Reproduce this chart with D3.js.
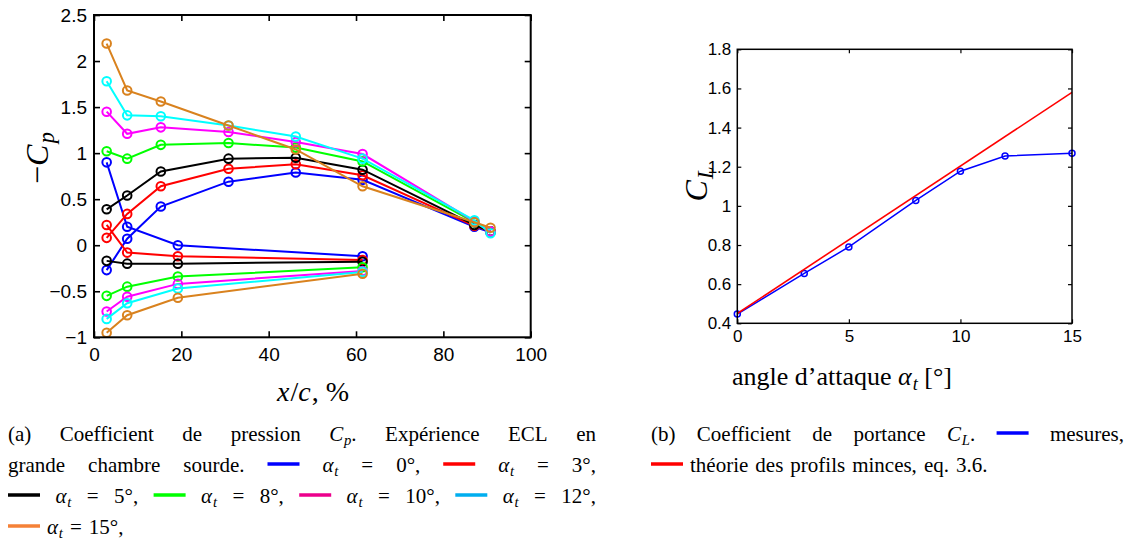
<!DOCTYPE html>
<html><head><meta charset="utf-8">
<script src="https://cdn.jsdelivr.net/npm/d3@7"></script>
<style>
body{margin:0;background:#fff} svg{display:block}
</style>
</head><body>
<svg id="c" width="1131" height="540"></svg>
<script>
// ---------- data ----------
const xUpper = [2.9, 7.6, 15.3, 30.8, 46.2, 61.5, 87.1, 90.8];
const xLower = [2.9, 7.6, 19.2, 61.5];
const alphas = [0, 3, 5, 8, 10, 12, 15];
const cpUpper0  = [-0.27, 0.07, 0.42, 0.69, 0.79, 0.71, 0.20, 0.14];
const cpUpper3  = [0.08, 0.34, 0.64, 0.83, 0.88, 0.76, 0.21, 0.15];
const cpUpper5  = [0.39, 0.54, 0.80, 0.94, 0.95, 0.82, 0.22, 0.15];
const cpUpper8  = [1.02, 0.94, 1.09, 1.11, 1.06, 0.91, 0.25, 0.15];
const cpUpper10 = [1.45, 1.21, 1.28, 1.23, 1.12, 0.99, 0.26, 0.15];
const cpUpper12 = [1.78, 1.41, 1.40, 1.30, 1.18, 0.94, 0.27, 0.13];
const cpUpper15 = [2.19, 1.68, 1.56, 1.30, 1.04, 0.64, 0.25, 0.19];
const cpLower0  = [0.90, 0.20, 0.00, -0.12];
const cpLower3  = [0.22, -0.08, -0.12, -0.16];
const cpLower5  = [-0.17, -0.20, -0.20, -0.18];
const cpLower8  = [-0.55, -0.45, -0.34, -0.24];
const cpLower10 = [-0.72, -0.56, -0.42, -0.28];
const cpLower12 = [-0.80, -0.63, -0.47, -0.29];
const cpLower15 = [-0.95, -0.76, -0.57, -0.31];
const cpXTicks = [0, 20, 40, 60, 80, 100];
const cpYTicks = [-1, -0.5, 0, 0.5, 1, 1.5, 2, 2.5];

const clAlpha = [0, 3, 5, 8, 10, 12, 15];
const clMeasured = [0.447, 0.655, 0.79, 1.028, 1.177, 1.255, 1.269];
const theoryAlpha = [0, 15];
const theoryCL = [0.45, 1.58];
const clXTicks = [0, 5, 10, 15];
const clYTicks = [0.4, 0.6, 0.8, 1.0, 1.2, 1.4, 1.6, 1.8];

const upperSets = [cpUpper0, cpUpper3, cpUpper5, cpUpper8, cpUpper10, cpUpper12, cpUpper15];
const lowerSets = [cpLower0, cpLower3, cpLower5, cpLower8, cpLower10, cpLower12, cpLower15];
const plotColors = ["#0000ff", "#ff0000", "#000000", "#00ff00", "#ff00ff", "#00ffff", "#d9821e"];
const swatchColors = ["#0000ff", "#ff0000", "#000000", "#00ff00", "#ec008c", "#00aeef", "#f58137"];

// ---------- setup ----------
const svg = d3.select("#c");
const SANS = "Liberation Sans";
const SERIF = "Liberation Serif";

// each rich-text part becomes its own <text>, a direct child of the svg
function makeParts(parts, size) {
  return parts.map(p => {
    const fs = p.sub ? size * 0.7 : size;
    const t = svg.append("text").attr("x", 0).attr("y", -100)
      .attr("font-family", SERIF).attr("font-size", fs)
      .style("font-family", "'Liberation Serif'");
    if (p.it) t.style("font-style", "italic");
    t.attr("fill", "#000").text(p.t);
    const w = t.node().getComputedTextLength() + (p.it && !p.sub ? size * 0.04 : 0);
    return {t: t, w: w, dy: p.sub ? size * 0.2 : 0};
  });
}
function placeParts(items, x, y, transform) {
  let cx = x;
  items.forEach(it => {
    it.t.attr("x", cx).attr("y", y + it.dy);
    if (transform) it.t.attr("transform", transform);
    cx += it.w;
  });
}
function label(parts, size, cx, cy, rotated) {
  const items = makeParts(parts, size);
  const total = d3.sum(items, d => d.w);
  if (rotated) placeParts(items, -total / 2, 0, `translate(${cx},${cy}) rotate(-90)`);
  else placeParts(items, cx - total / 2, cy, null);
}

function boxAxes(g, x, y, xt, yt, opts) {
  const [x0, x1] = x.range(), [y0, y1] = y.range();
  const fmt = d3.format("~g");
  const ax = g.append("g").attr("transform", `translate(0,${y0})`)
    .call(d3.axisBottom(x).tickValues(xt).tickSizeInner(-opts.tick).tickSizeOuter(0).tickPadding(opts.padX).tickFormat(fmt));
  const ay = g.append("g").attr("transform", `translate(${x0},0)`)
    .call(d3.axisLeft(y).tickValues(yt).tickSizeInner(-opts.tick).tickSizeOuter(0).tickPadding(opts.padY).tickFormat(fmt));
  const at = g.append("g").attr("transform", `translate(0,${y1})`)
    .call(d3.axisTop(x).tickValues(xt).tickSizeInner(-opts.tick).tickSizeOuter(0).tickFormat(""));
  const ar = g.append("g").attr("transform", `translate(${x1},0)`)
    .call(d3.axisRight(y).tickValues(yt).tickSizeInner(-opts.tick).tickSizeOuter(0).tickFormat(""));
  [ax, ay, at, ar].forEach(a => {
    a.select(".domain").remove();
    a.selectAll("line").attr("stroke", "#000").attr("stroke-width", opts.tw);
    a.selectAll("text").attr("fill", "#000").attr("font-family", SANS).attr("font-size", opts.fs);
  });
  g.append("rect").attr("x", x0).attr("y", y1).attr("width", x1 - x0).attr("height", y0 - y1)
    .attr("fill", "none").attr("stroke", "#000").attr("stroke-width", opts.sw);
}

// ---------- left plot ----------
const xL = d3.scaleLinear().domain([0, 100]).range([94, 530.7]);
const yL = d3.scaleLinear().domain([-1, 2.5]).range([337.3, 15]);
const gL = svg.append("g");
const lineL = d3.line().x(d => xL(d[0])).y(d => yL(d[1]));
alphas.forEach((a, i) => {
  const up = xUpper.map((xv, k) => [xv, upperSets[i][k]]);
  const lo = xLower.map((xv, k) => [xv, lowerSets[i][k]]);
  [up, lo].forEach(pts => {
    gL.append("path").attr("d", lineL(pts)).attr("fill", "none")
      .attr("stroke", plotColors[i]).attr("stroke-width", 2);
    gL.selectAll(null).data(pts).enter().append("circle")
      .attr("cx", d => xL(d[0])).attr("cy", d => yL(d[1])).attr("r", 4.3)
      .attr("fill", "none").attr("stroke", plotColors[i]).attr("stroke-width", 2);
  });
});
boxAxes(gL, xL, yL, cpXTicks, cpYTicks, {tick: 6, padX: 10, padY: 7, fs: 19, sw: 2, tw: 1.6});

label([{t: "\u2212"}, {t: "C", it: true}, {t: "p", it: true, sub: true}], 32, 48, 158, true);
label([{t: "x", it: true}, {t: "/"}, {t: "c", it: true}, {t: ",\u00a0%"}], 28, 313, 401, false);

// ---------- right plot ----------
const xR = d3.scaleLinear().domain([0, 15]).range([737.3, 1072]);
const yR = d3.scaleLinear().domain([0.4, 1.8]).range([323.3, 49.3]);
const gR = svg.append("g");
const lineR = d3.line().x(d => xR(d[0])).y(d => yR(d[1]));
const measPts = clAlpha.map((a, k) => [a, clMeasured[k]]);
const theoPts = theoryAlpha.map((a, k) => [a, theoryCL[k]]);
gR.append("path").attr("d", lineR(measPts)).attr("fill", "none").attr("stroke", "#0000ff").attr("stroke-width", 1.5);
gR.selectAll(null).data(measPts).enter().append("circle")
  .attr("cx", d => xR(d[0])).attr("cy", d => yR(d[1])).attr("r", 3)
  .attr("fill", "none").attr("stroke", "#0000ff").attr("stroke-width", 1.5);
gR.append("path").attr("d", lineR(theoPts)).attr("fill", "none").attr("stroke", "#ff0000").attr("stroke-width", 1.6);
boxAxes(gR, xR, yR, clXTicks, clYTicks, {tick: 4, padX: 7, padY: 6, fs: 17, sw: 1.5, tw: 1.2});

label([{t: "C", it: true}, {t: "L", it: true, sub: true}], 32, 707, 184, true);
label([{t: "angle d\u2019attaque\u00a0"}, {t: "\u03b1", it: true}, {t: "t", it: true, sub: true}, {t: "\u00a0[\u00b0]"}], 26, 842, 385, false);

// ---------- captions ----------
const CFS = 21;
function T(s) { return {type: "text", parts: [{t: s}]}; }
function M(letter, sub, tail) {
  const p = [{t: letter, it: true}, {t: sub, it: true, sub: true}];
  if (tail) p.push({t: tail});
  return {type: "text", parts: p};
}
function S(c) { return {type: "swatch", color: c}; }

function layout(tokens, x0, x1, base, justify) {
  const widths = tokens.map(() => 32);
  const items = tokens.map(() => null);
  tokens.forEach((tk, i) => {
    if (tk.type !== "swatch") {
      items[i] = makeParts(tk.parts, CFS);
      widths[i] = d3.sum(items[i], d => d.w);
    }
  });
  const total = d3.sum(widths);
  const gap = justify ? (x1 - x0 - total) / (tokens.length - 1) : 7;
  let x = x0;
  tokens.forEach((tk, i) => {
    if (tk.type === "swatch") {
      svg.append("line").attr("x1", x).attr("x2", x + 32).attr("y1", base - 8).attr("y2", base - 8)
        .attr("stroke", tk.color).attr("stroke-width", 3.5);
    } else {
      placeParts(items[i], x, base, null);
    }
    x += widths[i] + gap;
  });
}

const A = (v) => [M("\u03b1", "t"), T("="), T(v + "\u00b0,")];
layout([T("(a)"), T("Coefficient"), T("de"), T("pression"), M("C", "p", "."), T("Exp\u00e9rience"), T("ECL"), T("en")], 8, 596, 441, true);
layout([T("grande"), T("chambre"), T("sourde."), S(swatchColors[0]), ...A(alphas[0]), S(swatchColors[1]), ...A(alphas[1])], 8, 596, 472, true);
layout([S(swatchColors[2]), ...A(alphas[2]), S(swatchColors[3]), ...A(alphas[3]), S(swatchColors[4]), ...A(alphas[4]), S(swatchColors[5]), ...A(alphas[5])], 8, 596, 503, true);
layout([S(swatchColors[6]), ...A(alphas[6])], 8, 596, 534, false);

layout([T("(b)"), T("Coefficient"), T("de"), T("portance"), M("C", "L", "."), S("#0000ff"), T("mesures,")], 651, 1124, 441, true);
layout([S("#ff0000"), T("th\u00e9orie"), T("des"), T("profils"), T("minces,"), T("eq."), T("3.6.")], 651, 1124, 472, false);
</script>
</body></html>
